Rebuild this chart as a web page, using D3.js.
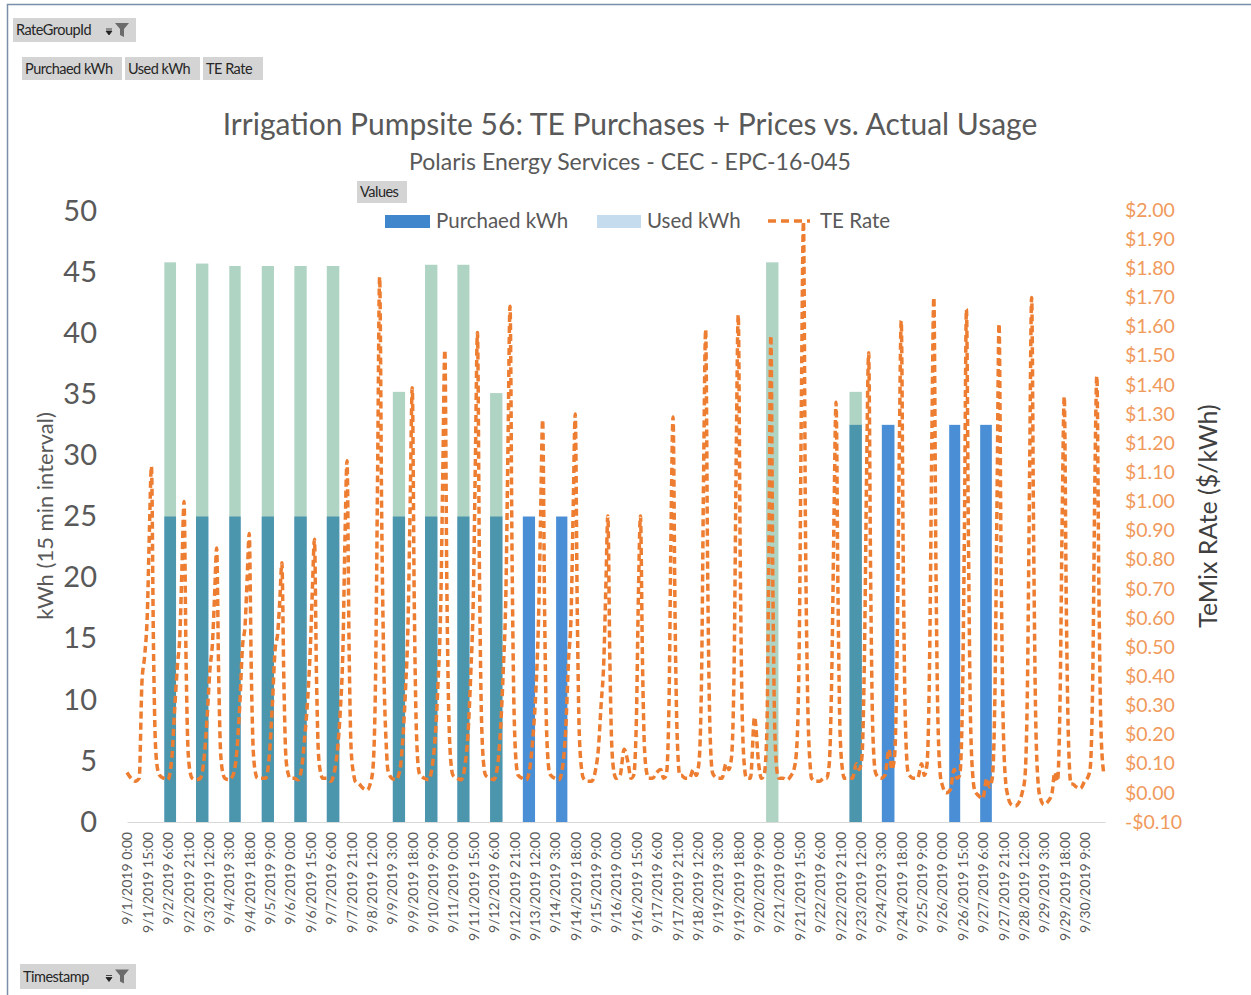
<!DOCTYPE html>
<html>
<head>
<meta charset="utf-8">
<script src="https://cdn.jsdelivr.net/npm/d3@7"></script>
<style>
  body { margin: 0; background: #fff; }
  svg { display: block; font-family: Lato, 'Open Sans', sans-serif; }
</style>
</head>
<body>
<svg id="chart" width="1251" height="995"></svg>
<script>
const rateHours = [0, 3, 6, 9, 11, 13, 15, 16.5, 18, 19.5, 21, 23];

// TE rate ($/kWh), one row per day from 9/1 to 9/30
const teRate = [
  [0.07, 0.05, 0.04, 0.05, 0.38, 0.47, 0.62, 0.90, 1.12, 0.50, 0.16, 0.07],
  [0.06, 0.05, 0.045, 0.12, 0.28, 0.43, 0.55, 0.78, 1.00, 0.45, 0.14, 0.06],
  [0.05, 0.045, 0.05, 0.13, 0.26, 0.42, 0.52, 0.68, 0.84, 0.40, 0.13, 0.06],
  [0.05, 0.045, 0.06, 0.15, 0.30, 0.50, 0.58, 0.74, 0.89, 0.42, 0.14, 0.06],
  [0.05, 0.05, 0.05, 0.14, 0.30, 0.49, 0.55, 0.66, 0.79, 0.38, 0.12, 0.06],
  [0.05, 0.05, 0.045, 0.10, 0.20, 0.32, 0.50, 0.70, 0.87, 0.40, 0.13, 0.06],
  [0.05, 0.05, 0.04, 0.08, 0.15, 0.28, 0.50, 0.88, 1.14, 0.50, 0.15, 0.06],
  [0.04, 0.03, 0.015, 0.01, 0.03, 0.08, 0.40, 1.10, 1.77, 0.95, 0.45, 0.15],
  [0.08, 0.05, 0.045, 0.08, 0.18, 0.35, 0.60, 1.00, 1.39, 0.65, 0.22, 0.07],
  [0.06, 0.05, 0.045, 0.10, 0.20, 0.38, 0.65, 1.10, 1.52, 0.70, 0.25, 0.08],
  [0.06, 0.05, 0.045, 0.10, 0.20, 0.40, 0.68, 1.15, 1.58, 0.75, 0.25, 0.08],
  [0.06, 0.05, 0.045, 0.10, 0.22, 0.42, 0.70, 1.20, 1.67, 0.80, 0.27, 0.08],
  [0.06, 0.05, 0.045, 0.10, 0.20, 0.35, 0.60, 0.95, 1.28, 0.60, 0.20, 0.07],
  [0.06, 0.05, 0.045, 0.10, 0.22, 0.45, 0.62, 0.98, 1.30, 0.62, 0.20, 0.07],
  [0.05, 0.04, 0.04, 0.08, 0.15, 0.30, 0.45, 0.70, 0.95, 0.45, 0.15, 0.06],
  [0.05, 0.06, 0.15, 0.10, 0.05, 0.06, 0.25, 0.68, 0.95, 0.45, 0.15, 0.06],
  [0.05, 0.05, 0.07, 0.08, 0.05, 0.06, 0.30, 0.90, 1.29, 0.60, 0.20, 0.06],
  [0.06, 0.05, 0.05, 0.08, 0.06, 0.10, 0.40, 1.10, 1.59, 0.75, 0.25, 0.07],
  [0.06, 0.05, 0.05, 0.10, 0.08, 0.12, 0.45, 1.15, 1.64, 0.78, 0.25, 0.07],
  [0.05, 0.05, 0.26, 0.10, 0.05, 0.06, 0.20, 0.80, 1.57, 0.70, 0.20, 0.06],
  [0.05, 0.05, 0.045, 0.06, 0.08, 0.15, 0.55, 1.35, 1.96, 0.90, 0.35, 0.09],
  [0.05, 0.04, 0.04, 0.05, 0.05, 0.10, 0.45, 0.95, 1.34, 0.65, 0.20, 0.07],
  [0.05, 0.05, 0.05, 0.10, 0.08, 0.12, 0.50, 1.10, 1.51, 0.72, 0.22, 0.07],
  [0.06, 0.05, 0.06, 0.15, 0.08, 0.12, 0.50, 1.15, 1.62, 0.78, 0.25, 0.07],
  [0.06, 0.05, 0.05, 0.10, 0.06, 0.10, 0.50, 1.20, 1.70, 0.80, 0.25, 0.05],
  [0.03, 0.00, 0.01, 0.08, 0.05, 0.06, 0.30, 0.90, 1.66, 0.85, 0.25, 0.04],
  [0.01, -0.01, -0.02, 0.05, 0.02, 0.05, 0.35, 1.00, 1.61, 0.80, 0.25, 0.03],
  [0.00, -0.04, -0.045, -0.03, 0.00, 0.05, 0.40, 1.10, 1.70, 0.85, 0.25, 0.02],
  [-0.01, -0.04, -0.03, 0.00, 0.07, 0.04, 0.35, 0.95, 1.36, 0.65, 0.20, 0.03],
  [0.03, 0.02, 0.015, 0.04, 0.05, 0.08, 0.40, 1.05, 1.43, 0.70, 0.22, 0.07]
];

// pumping blocks: day of September, start / end hour, kWh per 15 min
const blockDay = [2, 3, 4, 5, 6, 7, 9, 10, 11, 12, 13, 14, 20, 23, 24, 26, 27];
const blockStart = [3.5, 2.8, 3.3, 3.2, 3.2, 3.1, 3.7, 3.4, 3.2, 3.3, 3.4, 3.9, 14.5, 3.9, 3.7, 5.3, 4.1];
const blockEnd = [12.1, 11.9, 11.7, 12.2, 12.3, 12.3, 12.7, 12.5, 12.1, 12.4, 12.4, 12.2, 23.6, 13.0, 13.0, 13.4, 12.7];
const purchasedKwh = [25, 25, 25, 25, 25, 25, 25, 25, 25, 25, 25, 25, 0, 32.5, 32.5, 32.5, 32.5];
const usedKwh = [45.8, 45.7, 45.5, 45.5, 45.5, 45.5, 35.2, 45.6, 45.6, 35.1, 0, 0, 45.8, 35.2, 0, 0, 0];

const kwhTicks = [0, 5, 10, 15, 20, 25, 30, 35, 40, 45, 50];
const rateTicks = [-0.1, 0, 0.1, 0.2, 0.3, 0.4, 0.5, 0.6, 0.7, 0.8, 0.9, 1.0,
  1.1, 1.2, 1.3, 1.4, 1.5, 1.6, 1.7, 1.8, 1.9, 2.0];
const xTickLabels = [
  '9/1/2019 0:00', '9/1/2019 15:00', '9/2/2019 6:00', '9/2/2019 21:00', '9/3/2019 12:00',
  '9/4/2019 3:00', '9/4/2019 18:00', '9/5/2019 9:00', '9/6/2019 0:00', '9/6/2019 15:00',
  '9/7/2019 6:00', '9/7/2019 21:00', '9/8/2019 12:00', '9/9/2019 3:00', '9/9/2019 18:00',
  '9/10/2019 9:00', '9/11/2019 0:00', '9/11/2019 15:00', '9/12/2019 6:00', '9/12/2019 21:00',
  '9/13/2019 12:00', '9/14/2019 3:00', '9/14/2019 18:00', '9/15/2019 9:00', '9/16/2019 0:00',
  '9/16/2019 15:00', '9/17/2019 6:00', '9/17/2019 21:00', '9/18/2019 12:00', '9/19/2019 3:00',
  '9/19/2019 18:00', '9/20/2019 9:00', '9/21/2019 0:00', '9/21/2019 15:00', '9/22/2019 6:00',
  '9/22/2019 21:00', '9/23/2019 12:00', '9/24/2019 3:00', '9/24/2019 18:00', '9/25/2019 9:00',
  '9/26/2019 0:00', '9/26/2019 15:00', '9/27/2019 6:00', '9/27/2019 21:00', '9/28/2019 12:00',
  '9/29/2019 3:00', '9/29/2019 18:00', '9/30/2019 9:00'
];

const HOUR = 3600e3;
const t0 = Date.UTC(2019, 8, 1);
const textColor = '#595959';
const orange = '#ED7D31';

const svg = d3.select('#chart');

const x = d3.scaleUtc()
  .domain([new Date(t0), new Date(t0 + 720 * HOUR)])
  .range([127, 1105]);
const yKwh = d3.scaleLinear().domain([0, 50]).range([822, 211]);
const yRate = d3.scaleLinear().domain([-0.1, 2.0]).range([822, 210]);

// frame
svg.append('path')
  .attr('d', 'M7.5,995V4.5H1251')
  .attr('fill', 'none')
  .attr('stroke', '#7990a8')
  .attr('stroke-width', 1.5);

// pivot field buttons
function fieldButton(bx, by, w, h, label, withFilter) {
  const g = svg.append('g').attr('transform', `translate(${bx},${by})`);
  g.append('rect').attr('width', w).attr('height', h).attr('fill', '#d4d4d4');
  g.append('text')
    .attr('x', 3)
    .attr('y', h / 2)
    .attr('dy', '0.35em')
    .attr('font-size', 14.5)
    .attr('letter-spacing', -0.5)
    .attr('fill', '#262626')
    .text(label);
  if (withFilter) {
    g.append('path')
      .attr('d', `M${w - 30},${h / 2 + 1}h6l-3,4z M${w - 30},${h / 2 - 1}h6`)
      .attr('fill', '#222').attr('stroke', '#222').attr('stroke-width', 0.8);
    g.append('path')
      .attr('d', `M${w - 21},${h / 2 - 7}h14l-5,6v8l-4,-2v-6z`)
      .attr('fill', '#6b6b6b');
  }
}
fieldButton(13, 18, 123, 24, 'RateGroupId', true);
fieldButton(22, 57, 100, 23, 'Purchaed kWh', false);
fieldButton(125, 57, 75, 23, 'Used kWh', false);
fieldButton(203, 57, 60, 23, 'TE Rate', false);
fieldButton(357, 181, 50, 22, 'Values', false);
fieldButton(20, 964, 116, 25, 'Timestamp', true);

// titles
svg.append('text')
  .attr('x', 630).attr('y', 124)
  .attr('dy', '0.35em')
  .attr('text-anchor', 'middle')
  .attr('font-size', 30)
  .attr('fill', textColor)
  .text('Irrigation Pumpsite 56: TE Purchases + Prices vs. Actual Usage');

svg.append('text')
  .attr('x', 630).attr('y', 162)
  .attr('dy', '0.35em')
  .attr('text-anchor', 'middle')
  .attr('font-size', 23)
  .attr('fill', textColor)
  .text('Polaris Energy Services - CEC - EPC-16-045');

// bars
const blocks = blockDay.map((d, i) => ({
  start: new Date(t0 + ((d - 1) * 24 + blockStart[i]) * HOUR),
  end: new Date(t0 + ((d - 1) * 24 + blockEnd[i]) * HOUR),
  purchased: purchasedKwh[i],
  used: usedKwh[i]
}));

svg.append('g').selectAll('rect')
  .data(blocks.filter(b => b.purchased > 0))
  .join('rect')
  .attr('x', b => x(b.start))
  .attr('width', b => x(b.end) - x(b.start))
  .attr('y', b => yKwh(b.purchased))
  .attr('height', b => yKwh(0) - yKwh(b.purchased))
  .attr('fill', '#4a8fd6');

// used kWh sits on top, semi-transparent (teal over blue, sage over white)
svg.append('g').selectAll('rect')
  .data(blocks.filter(b => b.used > 0))
  .join('rect')
  .attr('x', b => x(b.start))
  .attr('width', b => x(b.end) - x(b.start))
  .attr('y', b => yKwh(b.used))
  .attr('height', b => yKwh(0) - yKwh(b.used))
  .attr('fill', '#4fa07c')
  .attr('fill-opacity', 0.45);

// x axis
const parseTick = d3.utcParse('%m/%d/%Y %H:%M');
const gx = svg.append('g')
  .attr('transform', 'translate(0,822)')
  .call(d3.axisBottom(x)
    .tickValues(xTickLabels.map(parseTick))
    .tickFormat((d, i) => xTickLabels[i])
    .tickSize(0));
gx.attr('font-family', null).attr('font-size', 14);
gx.select('.domain').attr('stroke', '#d9d9d9');
gx.selectAll('text')
  .attr('transform', 'rotate(-90)')
  .attr('text-anchor', 'end')
  .attr('x', -10)
  .attr('y', 0)
  .attr('dy', '0.35em')
  .attr('fill', textColor);

// left axis
const gl = svg.append('g')
  .attr('transform', 'translate(97,0)')
  .call(d3.axisLeft(yKwh).tickValues(kwhTicks).tickSize(0).tickPadding(0));
gl.attr('font-family', null).attr('font-size', 29);
gl.select('.domain').remove();
gl.selectAll('text').attr('fill', textColor);

svg.append('text')
  .attr('transform', 'translate(45,516) rotate(-90)')
  .attr('text-anchor', 'middle')
  .attr('dy', '0.35em')
  .attr('font-size', 22)
  .attr('fill', textColor)
  .text('kWh (15 min interval)');

// right axis
const fmtRate = v => (v < 0 ? '-' : '') + '$' + Math.abs(v).toFixed(2);
const gr = svg.append('g')
  .attr('transform', 'translate(1123,0)')
  .call(d3.axisRight(yRate).tickValues(rateTicks).tickFormat(fmtRate).tickSize(0).tickPadding(2));
gr.attr('font-family', null).attr('font-size', 19.5);
gr.select('.domain').remove();
gr.selectAll('text').attr('fill', '#F09A5C');

svg.append('text')
  .attr('transform', 'translate(1208,516) rotate(-90)')
  .attr('text-anchor', 'middle')
  .attr('dy', '0.35em')
  .attr('font-size', 25)
  .attr('fill', '#404040')
  .text('TeMix RAte ($/kWh)');

// TE rate line
const ratePoints = teRate.flatMap((row, d) =>
  row.map((v, j) => ({ t: new Date(t0 + (d * 24 + rateHours[j]) * HOUR), v })));

const line = d3.line()
  .x(p => x(p.t))
  .y(p => yRate(p.v))
  .curve(d3.curveMonotoneX);

svg.append('path')
  .datum(ratePoints)
  .attr('d', line)
  .attr('fill', 'none')
  .attr('stroke', orange)
  .attr('stroke-width', 3.5)
  .attr('stroke-dasharray', '7,4');

// legend
const legend = svg.append('g').attr('font-size', 20.5).attr('fill', textColor);
legend.append('rect').attr('x', 385).attr('y', 215).attr('width', 45).attr('height', 13).attr('fill', '#3f86cc');
legend.append('text').attr('x', 436).attr('y', 221).attr('dy', '0.35em').text('Purchaed kWh');
legend.append('rect').attr('x', 597).attr('y', 215).attr('width', 44).attr('height', 13).attr('fill', '#c5dcee');
legend.append('text').attr('x', 647).attr('y', 221).attr('dy', '0.35em').text('Used kWh');
legend.append('line')
  .attr('x1', 768).attr('x2', 810).attr('y1', 221).attr('y2', 221)
  .attr('stroke', orange).attr('stroke-width', 3.5).attr('stroke-dasharray', '8,5');
legend.append('text').attr('x', 820).attr('y', 221).attr('dy', '0.35em').text('TE Rate');
</script>
</body>
</html>
